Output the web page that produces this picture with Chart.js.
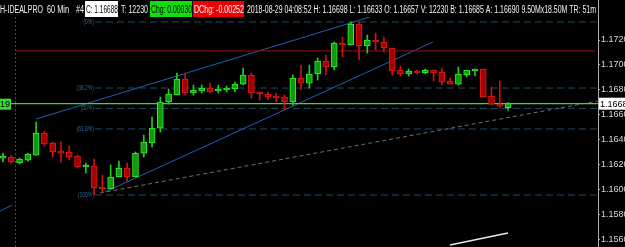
<!DOCTYPE html>
<html>
<head>
<meta charset="utf-8">
<script src="https://cdn.jsdelivr.net/npm/chart.js@4.4.0/dist/chart.umd.min.js"></script>
<style>
  html, body { margin: 0; padding: 0; background: #000; }
  #wrap { width: 625px; height: 247px; position: relative; }
</style>
</head>
<body>
<div id="wrap"><canvas id="priceChart"></canvas></div>
<script>
// EUR.USD 60 min bars, oldest first (x = bar index)
const opens = [1.16251, 1.16259, 1.16211, 1.16235, 1.16275, 1.16452, 1.16372, 1.16300, 1.16300, 1.16267,
  1.16179, 1.16187, 1.16010, 1.16002, 1.16099, 1.16171, 1.16099, 1.16291, 1.16372, 1.16492,
  1.16702, 1.16758, 1.16886, 1.16774, 1.16790, 1.16814, 1.16790, 1.16798, 1.16806, 1.16846,
  1.16919, 1.16774, 1.16766, 1.16742, 1.16742, 1.16702, 1.16894, 1.16854, 1.16927, 1.17031,
  1.16983, 1.17168, 1.17160, 1.17329, 1.17152, 1.17192, 1.17184, 1.17136, 1.16959, 1.16927,
  1.16951, 1.16935, 1.16959, 1.16943, 1.16870, 1.16846, 1.16919, 1.16951, 1.16967, 1.16750,
  1.16685, 1.16657];
const highs = [1.16291, 1.16275, 1.16251, 1.16291, 1.16541, 1.16468, 1.16380, 1.16380, 1.16348, 1.16275,
  1.16211, 1.16243, 1.16115, 1.16195, 1.16227, 1.16211, 1.16300, 1.16436, 1.16581, 1.16742,
  1.16806, 1.16935, 1.16935, 1.16838, 1.16838, 1.16854, 1.16838, 1.16830, 1.16862, 1.16975,
  1.16935, 1.16782, 1.16782, 1.16774, 1.16758, 1.16919, 1.16999, 1.16999, 1.17055, 1.17079,
  1.17184, 1.17224, 1.17345, 1.17345, 1.17240, 1.17256, 1.17224, 1.17136, 1.16991, 1.16967,
  1.16959, 1.16967, 1.16959, 1.16975, 1.16894, 1.16983, 1.16959, 1.16967, 1.16967, 1.16822,
  1.16870, 1.16698];
const lows = [1.16219, 1.16203, 1.16203, 1.16227, 1.16275, 1.16348, 1.16259, 1.16219, 1.16235, 1.16171,
  1.16131, 1.15954, 1.15978, 1.16002, 1.16099, 1.16058, 1.16099, 1.16259, 1.16340, 1.16460,
  1.16685, 1.16758, 1.16758, 1.16758, 1.16774, 1.16774, 1.16774, 1.16782, 1.16782, 1.16838,
  1.16734, 1.16718, 1.16718, 1.16702, 1.16637, 1.16677, 1.16798, 1.16814, 1.16878, 1.16919,
  1.16959, 1.17063, 1.17160, 1.17039, 1.17095, 1.17120, 1.17104, 1.16919, 1.16911, 1.16911,
  1.16927, 1.16927, 1.16870, 1.16838, 1.16846, 1.16838, 1.16903, 1.16911, 1.16742, 1.16677,
  1.16653, 1.16633];
const closes = [1.16259, 1.16219, 1.16243, 1.16283, 1.16452, 1.16364, 1.16300, 1.16291, 1.16259, 1.16179,
  1.16187, 1.16010, 1.16002, 1.16099, 1.16171, 1.16099, 1.16291, 1.16380, 1.16492, 1.16702,
  1.16766, 1.16886, 1.16774, 1.16798, 1.16814, 1.16782, 1.16806, 1.16814, 1.16846, 1.16919,
  1.16774, 1.16766, 1.16742, 1.16734, 1.16702, 1.16894, 1.16854, 1.16927, 1.17031, 1.16983,
  1.17176, 1.17160, 1.17329, 1.17152, 1.17200, 1.17184, 1.17136, 1.16951, 1.16927, 1.16951,
  1.16935, 1.16959, 1.16935, 1.16862, 1.16846, 1.16927, 1.16959, 1.16967, 1.16742, 1.16685,
  1.16669, 1.16688];

const yTicks = [1.156, 1.158, 1.160, 1.162, 1.164, 1.166, 1.168, 1.170, 1.172];
const lastPrice = 1.16688;

// fibonacci retracement drawn on the chart
const fibLevels = [1.17345, 1.16814, 1.16650, 1.16485, 1.15954];
const fibNames = ["(0%)", "(38.2%)", "(50%)", "(61.8%)", "(100%)"];
const fibFrom = 11.1;

// hand drawn lines, [bar index, price]
const upperChannel = [[3.99, 1.16565], [44.32, 1.17385]];
const lowerChannel = [[12.32, 1.15978], [51.93, 1.17184]];
const outerChannel = [[-0.36, 1.15825], [1.09, 1.15873]];
const trendLine = [[11.71, 1.15970], [71.86, 1.16710]];
const whiteLine = [[53.99, 1.15552], [60.99, 1.15648]];
const redLevel = [[1.45, 1.17112], [71.5, 1.17112]];
const sessionBreak = 1.5;

const headerTitle = ["H-IDEALPRO", "60 Min", "#4"];
const headerClose = "C: 1.16688";
const headerTicks = "T: 12230";
const headerChg = "Chg: 0.00030";
const headerDChg = "DChg: -0.00252";
const headerInfo = "2018-08-29 04:08:52 H: 1.16698 L: 1.16633 O: 1.16657 V: 12230 B: 1.16685 A: 1.16690 9.50Mx18.50M TR: 51m";

const xMin = -0.362, xMax = 71.86;
const yMin = 1.15536, yMax = 1.17385;

const up = opens.map((o, i) => closes[i] >= o);
const bodies = opens.map((o, i) => ({ x: i, y: [o, closes[i]] }));
const wicks = opens.map((o, i) => ({ x: i, y: [lows[i], highs[i]] }));

function seg(points) {
    return points.map(p => ({ x: p[0], y: p[1] }));
}

function lineSet(points, color, width, dash) {
    return {
        type: "line",
        data: seg(points),
        borderColor: color,
        borderWidth: width,
        borderDash: dash || [],
        pointRadius: 0,
        fill: false,
        order: 5
    };
}

const fibSets = fibLevels.map(v => lineSet([[fibFrom, v], [xMax, v]], "#1d4b66", 1, [7, 4]));

function fitText(ctx, text, x, y, w) {
    let m = ctx.measureText(text).width;
    ctx.fillText(text, x, y, Math.min(m, w));
}

const overlay = {
    id: "overlay",
    afterDraw(chart) {
        const ctx = chart.ctx;
        const xs = chart.scales.x, ys = chart.scales.y;
        const area = chart.chartArea;
        ctx.save();

        // fib labels
        ctx.font = "7.5px 'Liberation Sans'";
        ctx.fillStyle = "#2c6a9a";
        ctx.textAlign = "right";
        ctx.textBaseline = "middle";
        fibLevels.forEach((v, i) => {
            let t = fibNames[i];
            let w = ctx.measureText(t).width * 0.66;
            ctx.fillText(t, xs.getPixelForValue(fibFrom) - 1, ys.getPixelForValue(v), w);
        });

        // last price tags
        let py = ys.getPixelForValue(lastPrice);
        ctx.fillStyle = "#ffffff";
        ctx.fillRect(area.right + 1, py - 6, 30, 12);
        ctx.fillStyle = "#000";
        ctx.textAlign = "left";
        ctx.font = "9px 'Liberation Sans'";
        ctx.fillText(lastPrice.toFixed(5), area.right + 2, py + 0.5);

        ctx.fillStyle = "#33dd33";
        ctx.fillRect(0, py - 5, 11, 11);
        ctx.fillStyle = "#000";
        ctx.font = "9px 'Liberation Sans'";
        ctx.fillText("19", 0, py + 0.5);

        // header strip
        ctx.fillStyle = "#000";
        ctx.fillRect(0, 0, chart.width, area.top);
        ctx.font = "10px 'Liberation Sans'";
        ctx.textBaseline = "middle";
        let ty = 10;
        ctx.fillStyle = "#f4f4f4";
        fitText(ctx, headerTitle[0], 0, ty, 43);
        fitText(ctx, headerTitle[1], 47, ty, 22);
        fitText(ctx, headerTitle[2], 76, ty, 8);
        ctx.fillStyle = "#ffffff";
        ctx.fillRect(85, 1, 33, 16);
        ctx.fillStyle = "#000";
        fitText(ctx, headerClose, 86, ty, 32);
        ctx.fillStyle = "#f4f4f4";
        fitText(ctx, headerTicks, 121, ty, 27);
        ctx.fillStyle = "#11dd11";
        ctx.fillRect(150, 1, 42, 16);
        ctx.fillStyle = "#000";
        fitText(ctx, headerChg, 151, ty, 41);
        ctx.fillStyle = "#ee0000";
        ctx.fillRect(193, 1, 51, 16);
        ctx.fillStyle = "#fff";
        fitText(ctx, headerDChg, 194, ty, 50);
        ctx.fillStyle = "#f4f4f4";
        fitText(ctx, headerInfo, 247, ty, 349);

        ctx.strokeStyle = "#b0b0b0";
        ctx.lineWidth = 1;
        ctx.beginPath();
        ctx.moveTo(area.right + 0.5, 0);
        ctx.lineTo(area.right + 0.5, area.top);
        ctx.stroke();
        ctx.restore();
    },
    beforeDatasetsDraw(chart) {
        const ctx = chart.ctx;
        const area = chart.chartArea;
        let sx = Math.round(chart.scales.x.getPixelForValue(sessionBreak)) + 0.5;
        ctx.save();
        ctx.strokeStyle = "#4a4a4a";
        ctx.setLineDash([2, 2]);
        ctx.beginPath();
        ctx.moveTo(sx, area.top);
        ctx.lineTo(sx, area.bottom);
        ctx.stroke();
        ctx.restore();
    }
};

new Chart(document.getElementById("priceChart"), {
    type: "bar",
    data: {
        datasets: [
            {
                data: bodies,
                backgroundColor: up.map(u => u ? "#0f9a0f" : "#a50000"),
                borderColor: up.map(u => u ? "#33f033" : "#e01a1a"),
                borderWidth: 1,
                borderSkipped: false,
                barThickness: 6,
                minBarLength: 2,
                grouped: false,
                order: 0
            },
            {
                data: wicks,
                backgroundColor: up.map(u => u ? "#22cc22" : "#cc1111"),
                borderWidth: 0,
                barThickness: 1,
                grouped: false,
                order: 1
            },
            lineSet([[xMin, lastPrice], [xMax, lastPrice]], "#33dd33", 1.2),
            lineSet(redLevel, "#9a0d0d", 1),
            lineSet(upperChannel, "#1f5fb0", 1),
            lineSet(lowerChannel, "#1f5fb0", 1),
            lineSet(outerChannel, "#1f5fb0", 1),
            lineSet(trendLine, "#6e6e6e", 1, [4, 3]),
            lineSet(whiteLine, "#e8e8e8", 1.5)
        ].concat(fibSets)
    },
    options: {
        responsive: true,
        maintainAspectRatio: false,
        animation: false,
        layout: { padding: { top: 17, left: 0, right: 0, bottom: 0 } },
        plugins: {
            legend: { display: false },
            tooltip: { enabled: false }
        },
        scales: {
            x: {
                type: "linear",
                display: false,
                offset: false,
                min: xMin,
                max: xMax
            },
            y: {
                position: "right",
                min: yMin,
                max: yMax,
                afterBuildTicks: s => { s.ticks = yTicks.map(v => ({ value: v })); },
                afterFit: s => {
                    s.width = 27;
                    s.paddingTop = 0;
                    s.paddingBottom = 0;
                },
                grid: { drawOnChartArea: false, drawTicks: true, tickLength: 2, color: "#a0a0a0" },
                border: { display: true, color: "#b0b0b0" },
                ticks: {
                    color: "#d8d8d8",
                    padding: 1,
                    font: { size: 9, family: "'Liberation Sans'" },
                    callback: v => Number(v).toFixed(5)
                }
            }
        }
    },
    plugins: [overlay]
});
</script>
</body>
</html>
